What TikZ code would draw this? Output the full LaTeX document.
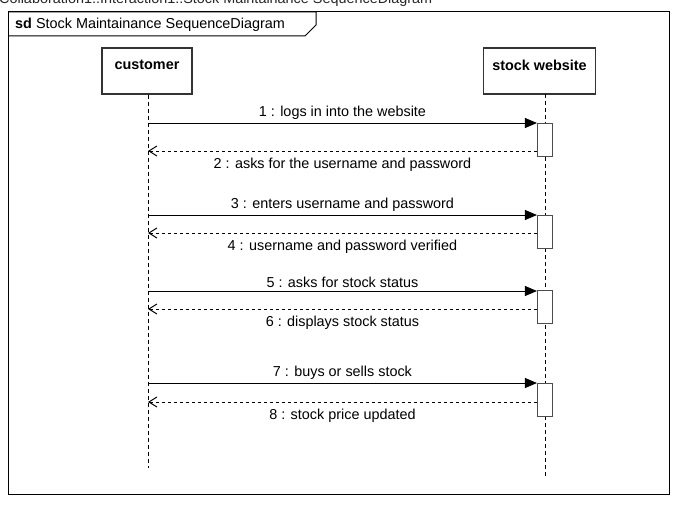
\documentclass[tikz,border=0pt]{standalone}
\usepackage{fontspec}
\setmainfont{Liberation Sans}
\usetikzlibrary{arrows.meta}

\begin{document}
\begin{tikzpicture}[x=1pt,y=-1pt,font=\fontsize{14.4}{16}\selectfont,
	headbox/.style={draw=black!80,line width=1.3pt,fill=white,inner sep=0,minimum height=46,text depth=12pt,font=\fontsize{14.4}{16}\selectfont\bfseries},
	actbox/.style={draw=black!70,line width=1.1pt,fill=white,inner sep=0,minimum width=15,minimum height=33,anchor=north},
	lifeline/.style={line width=1pt,dash pattern=on 4pt off 3pt},
	call/.style={line width=0.9pt,-{Triangle[length=12pt,width=10pt]}},
	reply/.style={line width=0.9pt,dash pattern=on 3pt off 3pt,-{Straight Barb[length=8pt,width=10pt,line width=1pt]}},
	replytext/.style={midway,below,yshift=-3pt}]
		\useasboundingbox (0,0) rectangle (691,527);
		
		\node[anchor=base west,inner sep=0,text=black!85] (path) at (-1,3.5) {Collaboration1::Interaction1::Stock Maintainance SequenceDiagram};
		
		% frame
		\draw[line width=1pt] (8,12) rectangle (669,494);
		\draw[line width=1pt] (8,12) -- (316,12) -- (316,25) -- (305,36) -- (8,36);
		\node[anchor=west,inner sep=0] (sdname) at (15,24.5) {\textbf{sd} Stock Maintainance SequenceDiagram};
		
		% lifelines
		\node[headbox,minimum width=90] (customer) at (147,71) {customer};
		\node[headbox,minimum width=112] (website) at (539.5,71) {stock website};
		\draw[lifeline] ([xshift=1]customer.south) -- (148,468);
		\draw[lifeline] (545,94) -- (545,476);
		
		\node[actbox] (act1) at (545,123) {};
		\node[actbox] (act2) at (545,215) {};
		\node[actbox] (act3) at (545,290) {};
		\node[actbox] (act4) at (545,383) {};
		
		\foreach \n/\y in {1/123,2/151,3/215,4/233,5/291,6/309,7/383,8/402}
		\coordinate (m\n) at (148,\y);
		
		% messages
		\draw[call] (m1) -- (m1 -| act1.west) node[midway,above] {1 : logs in into the website};
		\draw[reply] (m2 -| act1.west) -- (m2) node[replytext] {2 : asks for the username and password};
		\draw[call] (m3) -- (m3 -| act2.west) node[midway,above] {3 : enters username and password};
		\draw[reply] (m4 -| act2.west) -- (m4) node[replytext] {4 : username and password verified};
		\draw[call] (m5) -- (m5 -| act3.west) node[midway,above] {5 : asks for stock status};
		\draw[reply] (m6 -| act3.west) -- (m6) node[replytext] {6 : displays stock status};
		\draw[call] (m7) -- (m7 -| act4.west) node[midway,above] {7 : buys or sells stock};
		\draw[reply] (m8 -| act4.west) -- (m8) node[replytext] {8 : stock price updated};
	\end{tikzpicture}
\end{document}
